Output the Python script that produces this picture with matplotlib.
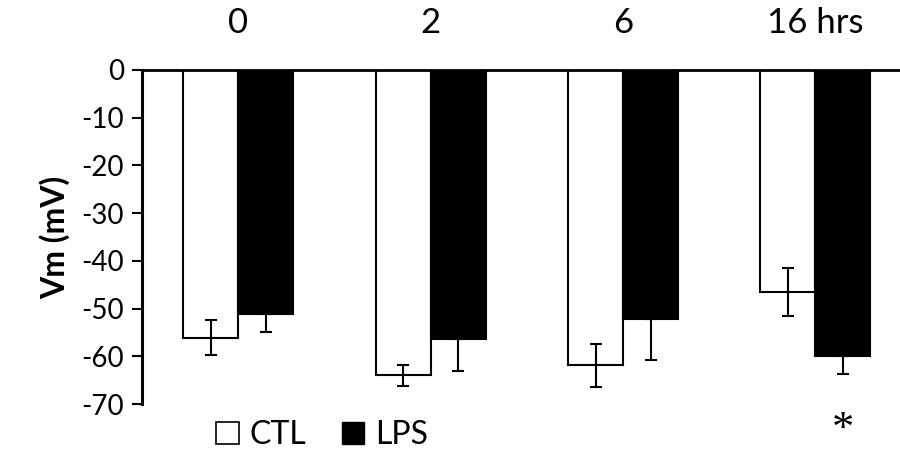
import matplotlib.pyplot as plt
import numpy as np
from matplotlib.patches import Patch

plt.rcParams['font.family'] = ['Lato', 'DejaVu Sans']
plt.rcParams['axes.unicode_minus'] = False

times = ['0', '2', '6', '16 hrs']
ctl = [-56.1, -64.0, -61.9, -46.5]
ctl_err = [3.7, 2.2, 4.5, 5.0]
lps = [-51.2, -56.3, -52.1, -60.0]
lps_err = [3.6, 6.8, 8.6, 3.6]

x = np.arange(len(times))
w = 0.286

fig = plt.figure(figsize=(9, 4.54), dpi=100)
ax = fig.add_axes([0.158, 0.110, 0.842, 0.736])

ax.bar(x - w/2, ctl, w, color='white', edgecolor='black', linewidth=1.5, zorder=2)
ax.bar(x + w/2, lps, w, color='black', edgecolor='black', linewidth=1.5, zorder=2)
ax.errorbar(x - w/2, ctl, yerr=ctl_err, fmt='none', ecolor='black',
            elinewidth=1.5, capsize=4.5, capthick=1.5, zorder=3)
ax.errorbar(x + w/2, lps, yerr=[lps_err, [0]*len(lps)], fmt='none', ecolor='black',
            elinewidth=1.5, capsize=4.5, capthick=1.5, zorder=3)

ax.set_xlim(-0.5, 3.44)
ax.set_ylim(-70, 0)
ax.set_yticks(np.arange(-70, 1, 10))
ax.tick_params(axis='y', direction='out', length=7, width=1.5, labelsize=20, pad=6)

ax.xaxis.tick_top()
ax.set_xticks(x)
ax.set_xticklabels(times)
ax.tick_params(axis='x', length=0, labelsize=25, pad=22)

for s in ['bottom', 'right']:
    ax.spines[s].set_visible(False)
ax.spines['left'].set_linewidth(2.2)
ax.spines['top'].set_linewidth(2)

ax.set_ylabel('Vm (mV)', fontsize=23, fontweight='bold', labelpad=8)

ax.text(x[3] + w/2, -75.5, '*', ha='center', va='center', fontsize=32,
        family='Liberation Serif', clip_on=False)

handles = [Patch(facecolor='white', edgecolor='black', linewidth=1.2, label='CTL'),
           Patch(facecolor='black', edgecolor='black', label='LPS')]
fig.legend(handles=handles, loc='center left', bbox_to_anchor=(0.226, 0.042),
           ncol=2, frameon=False, fontsize=23, handlelength=0.7, handleheight=0.7,
           handletextpad=0.35, columnspacing=1.1, borderaxespad=0)

plt.savefig('out.png', dpi=100)
